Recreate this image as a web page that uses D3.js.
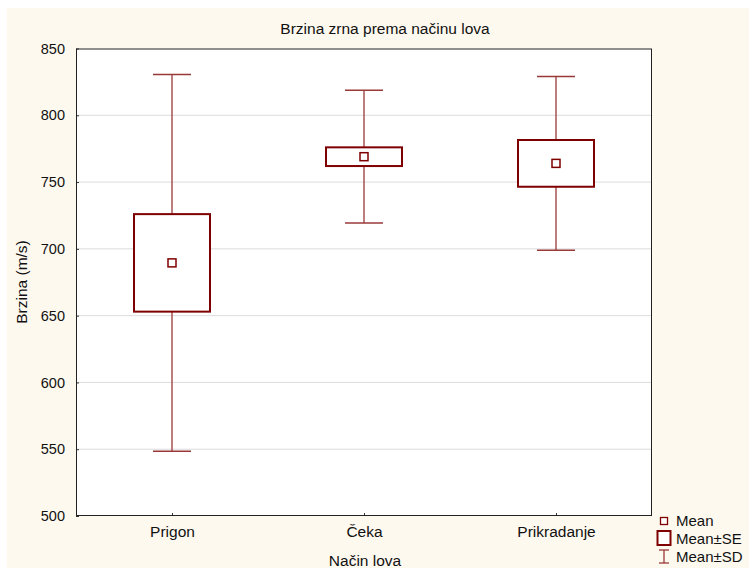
<!DOCTYPE html>
<html><head><meta charset="utf-8">
<script src="https://cdn.jsdelivr.net/npm/d3@7"></script>
<style>body{margin:0;background:#fff}svg{display:block}text{font-family:Arial,"Liberation Sans",sans-serif;fill:#111}</style>
</head><body><svg id="c" width="750" height="568"></svg>
<script>
const categories = ["Prigon", "Čeka", "Prikradanje"];
const means = [689.5, 769, 764];
const se = [36.5, 7, 17.5];
const sd = [141, 49.7, 65];
const yTicks = [500, 550, 600, 650, 700, 750, 800, 850];
const legendLabels = ["Mean", "Mean±SE", "Mean±SD"];

const svg = d3.select("#c");
const dark = "#7f0000", light = "#9a3838";
const FF = "Arial,'Liberation Sans',sans-serif";
svg.append("rect").attr("x",7).attr("y",8).attr("width",742).attr("height",560).attr("fill","#fef9ef");

const L=76,R=652,T=48.5,B=516;
const x = d3.scalePoint().domain(categories).range([L,R]).padding(0.5);
const y = d3.scaleLinear().domain([500,850]).range([B,T]);

svg.append("rect").attr("x",L).attr("y",T).attr("width",R-L).attr("height",B-T).attr("fill","#fff");
svg.append("g").selectAll("line").data(yTicks.slice(1,-1)).join("line")
  .attr("x1",L).attr("x2",R).attr("y1",d=>y(d)).attr("y2",d=>y(d)).attr("stroke","#dcdcdc").attr("stroke-width",1);

const yAxis = svg.append("g").attr("transform",`translate(${L},0)`)
  .call(d3.axisLeft(y).tickValues(yTicks).tickSize(-3).tickPadding(11));
yAxis.select(".domain").remove();
yAxis.selectAll("line").attr("stroke","#333");
yAxis.selectAll("text").attr("font-size",14.5).style("font-family",FF).attr("fill","#111");

const xAxis = svg.append("g").attr("transform",`translate(0,${B})`)
  .call(d3.axisBottom(x).tickSize(-3).tickPadding(10));
xAxis.select(".domain").remove();
xAxis.selectAll("line").attr("stroke","#333");
xAxis.selectAll("text").attr("font-size",15.5).style("font-family",FF).attr("fill","#111");

svg.append("rect").attr("x",L+0.5).attr("y",T+0.5).attr("width",R-L-1).attr("height",B-T-1)
  .attr("fill","none").attr("stroke","#222").attr("stroke-width",1);

const data = categories.map((c,i)=>({c,m:means[i],se:se[i],sd:sd[i]}));
const g = svg.append("g");
const boxW = 76, capW = 38, mk = 8;
data.forEach(d=>{
  const cx = x(d.c);
  g.append("line").attr("x1",cx).attr("x2",cx).attr("y1",y(d.m+d.sd)).attr("y2",y(d.m+d.se)).attr("stroke",light).attr("stroke-width",1.3);
  g.append("line").attr("x1",cx).attr("x2",cx).attr("y1",y(d.m-d.se)).attr("y2",y(d.m-d.sd)).attr("stroke",light).attr("stroke-width",1.3);
  g.append("line").attr("x1",cx-capW/2).attr("x2",cx+capW/2).attr("y1",y(d.m+d.sd)).attr("y2",y(d.m+d.sd)).attr("stroke",light).attr("stroke-width",1.5);
  g.append("line").attr("x1",cx-capW/2).attr("x2",cx+capW/2).attr("y1",y(d.m-d.sd)).attr("y2",y(d.m-d.sd)).attr("stroke",light).attr("stroke-width",1.5);
  g.append("rect").attr("x",cx-boxW/2).attr("y",y(d.m+d.se)).attr("width",boxW).attr("height",y(d.m-d.se)-y(d.m+d.se))
    .attr("fill","#fff").attr("stroke",dark).attr("stroke-width",2);
  g.append("rect").attr("x",cx-mk/2).attr("y",y(d.m)-mk/2).attr("width",mk).attr("height",mk)
    .attr("fill","#fff").attr("stroke",dark).attr("stroke-width",1.5);
});

svg.append("text").attr("x",385).attr("y",34).attr("text-anchor","middle").attr("font-size",15.5).text("Brzina zrna prema načinu lova");
svg.append("text").attr("x",365).attr("y",566).attr("text-anchor","middle").attr("font-size",15.5).text("Način lova");
svg.append("text").attr("transform","translate(27,282) rotate(-90)").attr("text-anchor","middle").attr("font-size",15.5).text("Brzina (m/s)");

const lg = svg.append("g");
lg.append("rect").attr("x",660.5).attr("y",517.5).attr("width",7).attr("height",7).attr("fill","#fff").attr("stroke",dark).attr("stroke-width",1.3);
lg.append("rect").attr("x",657.5).attr("y",531).attr("width",13).attr("height",14).attr("fill","#fff").attr("stroke",dark).attr("stroke-width",2);
lg.append("line").attr("x1",664).attr("x2",664).attr("y1",550).attr("y2",563).attr("stroke",light).attr("stroke-width",1.3);
lg.append("line").attr("x1",659).attr("x2",669).attr("y1",550).attr("y2",550).attr("stroke",light).attr("stroke-width",1.3);
lg.append("line").attr("x1",659).attr("x2",669).attr("y1",563).attr("y2",563).attr("stroke",light).attr("stroke-width",1.3);
lg.selectAll("text").data(legendLabels).join("text").attr("x",676).attr("y",(d,i)=>526+i*18).attr("font-size",15).text(d=>d);
</script></body></html>
